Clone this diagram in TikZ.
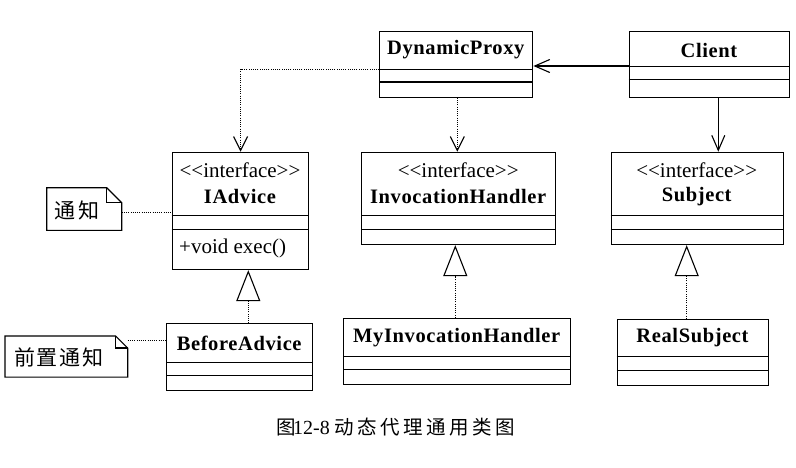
\documentclass[tikz,border=0pt]{standalone}
\usepackage{fontspec}
\setmainfont{Liberation Serif}
\newfontfamily\cjkA[LetterSpace=18]{Noto Sans CJK SC}
\newfontfamily\cjkB[LetterSpace=8]{Noto Sans CJK SC}
\newfontfamily\cjkC[LetterSpace=18]{Noto Sans CJK SC}
\newfontfamily\namefont[LetterSpace=3]{Liberation Serif}
\usetikzlibrary{arrows.meta}
\newcommand\ltlt{<\kern0pt<}
\newcommand\gtgt{>\kern0pt>}
\tikzset{
  cls/.style={draw, line width=1.1pt, inner sep=0pt, anchor=north west},
  cline/.style={line width=1.1pt},
  notebox/.style={draw=none, inner sep=0pt, anchor=north west},
  noteline/.style={line width=1.1pt, line join=miter},
  cname/.style={font=\namefont\bfseries\fontsize{20.5}{24}\selectfont, inner sep=0pt},
  stereo/.style={font=\fontsize{21}{24}\selectfont, inner sep=0pt},
  dep/.style={line width=0.8pt, dash pattern=on 1pt off 1.2pt, -{Straight Barb[length=14pt,width=14pt,line width=1.1pt]}},
  assoc/.style={line width=1.1pt, -{Straight Barb[length=15pt,width=13pt,line width=1.1pt]}},
  real/.style={line width=0.8pt, dash pattern=on 1pt off 1.2pt, -{Triangle[open, length=31pt, width=24pt, line width=1.1pt]}},
  anchorline/.style={line width=0.8pt, dash pattern=on 1pt off 1.2pt},
}
\begin{document}
\begin{tikzpicture}[x=1pt, y=-1pt]
\path[use as bounding box, fill=white] (0,0) rectangle (796,467);

% ---------- class boxes ----------
\node[cls, minimum width=153pt, minimum height=66pt] (dp) at (379.3,30.7) {};
\draw[cline] ([yshift=-38.6pt]dp.north west) -- ([yshift=-38.6pt]dp.north east);
\draw[cline] ([yshift=-51.3pt]dp.north west) -- ([yshift=-51.3pt]dp.north east);
\node[cname] (dpn) at (455.8,50) {DynamicProxy};

\node[cls, minimum width=160.6pt, minimum height=66pt] (cl) at (628.7,30.7) {};
\draw[cline] ([yshift=-36pt]cl.north west) -- ([yshift=-36pt]cl.north east);
\draw[cline] ([yshift=-48.6pt]cl.north west) -- ([yshift=-48.6pt]cl.north east);
\node[cname] (cln) at (709,50) {Client};

\node[cls, minimum width=136.6pt, minimum height=117.3pt] (ia) at (171.7,151.7) {};
\draw[cline] ([yshift=-63.6pt]ia.north west) -- ([yshift=-63.6pt]ia.north east);
\draw[cline] ([yshift=-77.6pt]ia.north west) -- ([yshift=-77.6pt]ia.north east);
\node[stereo] (ias) at (240,170) {\ltlt interface\gtgt};
\node[cname] (ian) at (240,196.7) {IAdvice};
\node[stereo, anchor=west] (iam) at (179,248.5) {+void exec()};

\node[cls, minimum width=193.7pt, minimum height=92.3pt] (ih) at (361.3,151.7) {};
\draw[cline] ([yshift=-63.6pt]ih.north west) -- ([yshift=-63.6pt]ih.north east);
\draw[cline] ([yshift=-77.6pt]ih.north west) -- ([yshift=-77.6pt]ih.north east);
\node[stereo] (ihs) at (458.2,170) {\ltlt interface\gtgt};
\node[cname] (ihn) at (458.2,196.7) {InvocationHandler};

\node[cls, minimum width=172pt, minimum height=92.3pt] (sj) at (610.7,151.7) {};
\draw[cline] ([yshift=-63.6pt]sj.north west) -- ([yshift=-63.6pt]sj.north east);
\draw[cline] ([yshift=-77.6pt]sj.north west) -- ([yshift=-77.6pt]sj.north east);
\node[stereo] (sjs) at (696.7,170) {\ltlt interface\gtgt};
\node[cname] (sjn) at (696.7,196.7) {Subject};

\node[cls, minimum width=146.3pt, minimum height=66.7pt] (ba) at (166,323.3) {};
\draw[cline] ([yshift=-39pt]ba.north west) -- ([yshift=-39pt]ba.north east);
\draw[cline] ([yshift=-52pt]ba.north west) -- ([yshift=-52pt]ba.north east);
\node[cname] (ban) at (239.2,343.3) {BeforeAdvice};

\node[cls, minimum width=226.7pt, minimum height=66.6pt] (mih) at (343.3,317.7) {};
\draw[cline] ([yshift=-39pt]mih.north west) -- ([yshift=-39pt]mih.north east);
\draw[cline] ([yshift=-51.6pt]mih.north west) -- ([yshift=-51.6pt]mih.north east);
\node[cname] (mihn) at (456.7,337.5) {MyInvocationHandler};

\node[cls, minimum width=151.6pt, minimum height=66.6pt] (rs) at (616.7,318.7) {};
\draw[cline] ([yshift=-38pt]rs.north west) -- ([yshift=-38pt]rs.north east);
\draw[cline] ([yshift=-51.6pt]rs.north west) -- ([yshift=-51.6pt]rs.north east);
\node[cname] (rsn) at (692.5,337.5) {RealSubject};

% ---------- notes ----------
\node[notebox, minimum width=74.6pt, minimum height=42.3pt] (n1) at (46.7,187.7) {};
\draw[noteline] (n1.north west) -- ([xshift=-15pt]n1.north east) -- ([yshift=-15pt]n1.north east) -- (n1.south east) -- (n1.south west) -- cycle;
\draw[noteline] ([xshift=-15pt]n1.north east) -- ([xshift=-15pt,yshift=-15pt]n1.north east) -- ([yshift=-15pt]n1.north east);
\node[font=\cjkA\fontsize{21}{24}\selectfont, inner sep=0pt, anchor=west] (n1t) at (54,210) {通知};

\node[notebox, minimum width=122.3pt, minimum height=40.7pt] (n2) at (5,336) {};
\draw[noteline] (n2.north west) -- ([xshift=-12pt]n2.north east) -- ([yshift=-12pt]n2.north east) -- (n2.south east) -- (n2.south west) -- cycle;
\draw[noteline] ([xshift=-12pt]n2.north east) -- ([xshift=-12pt,yshift=-12pt]n2.north east) -- ([yshift=-12pt]n2.north east);
\node[font=\cjkB\fontsize{21}{24}\selectfont, inner sep=0pt, anchor=west] (n2t) at (14,357) {前置通知};

% ---------- connectors ----------
\draw[assoc] (cl.west |- 0,66) -- (dp.east |- 0,66);
\draw[assoc] (718.3,0 |- cl.south) -- (718.3,0 |- sj.north);
\draw[dep] ([yshift=-38.6pt]dp.north west) -| (ia.north);
\draw[dep] (457.3,0 |- dp.south) -- (457.3,0 |- ih.north);
\draw[real] (ba.north -| 248.3,0) -- (ia.south -| 248.3,0);
\draw[real] (mih.north -| 455.3,0) -- (ih.south -| 455.3,0);
\draw[real] (rs.north -| 686.7,0) -- (sj.south -| 686.7,0);
\draw[anchorline] (n1.east |- 0,212) -- (ia.west |- 0,212);
\draw[anchorline] (n2.east |- 0,340.7) -- (ba.west |- 0,340.7);

% ---------- caption ----------
\node[inner sep=0pt] (cap) at (396,427) {\cjkC\fontsize{19.5}{22}\selectfont 图\kern-3pt{\rmfamily\fontsize{20}{22}\selectfont 12-8 }动态代理通用类图};
\end{tikzpicture}
\end{document}
